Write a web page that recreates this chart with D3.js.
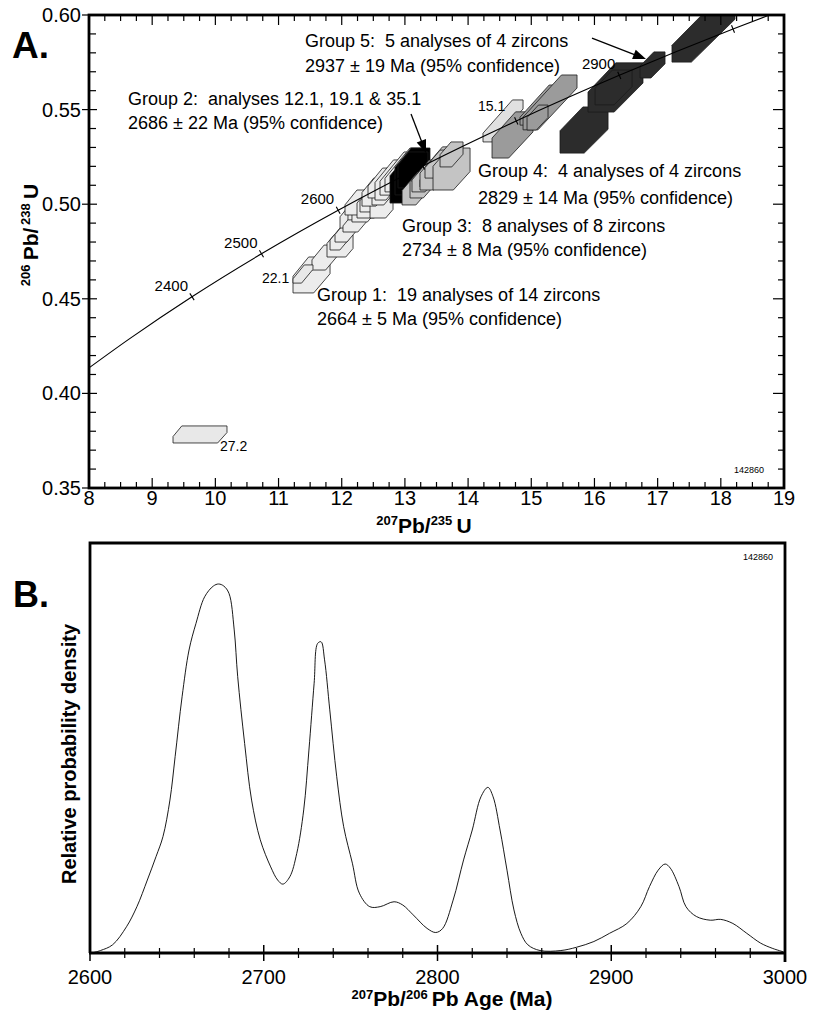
<!DOCTYPE html>
<html><head><meta charset="utf-8">
<script src="https://cdn.jsdelivr.net/npm/d3@7"></script>
<style>
body{margin:0;background:#fff;}
text{font-family:"Liberation Sans",Arial,Helvetica,sans-serif;fill:#000;}
.pre{white-space:pre;}
</style></head><body>
<svg id="c" width="813" height="1012"></svg>
<script>
// ---------- DATA ----------
// Concordia (age Ma, 207Pb/235U, 206Pb/238U)
const concAge = [2231, 2300, 2400, 2500, 2600, 2700, 2800, 2900, 3000, 3030];
const concX   = [8.000, 8.633, 9.630, 10.730, 11.944, 13.283, 14.762, 16.393, 18.193, 18.769];
const concY   = [0.4135, 0.4287, 0.4511, 0.4738, 0.4968, 0.5202, 0.5440, 0.5681, 0.5926, 0.6000];
const concTickAges  = [2400, 2500, 2600, 2700, 2800, 2900, 3000];
const concLabelAges = [2400, 2500, 2600, 2900];

// Analyses: group, 207Pb/235U, ±, 206Pb/238U, ±, relative error of 207Pb/206Pb
const anGroup = ["g1","g1","g1","g1","g1","g1","g1","g1","g1","g1","g1","g1","g1","g1","g1","g1","g1","g1","g1",
                 "out","out",
                 "g2","g2","g2",
                 "g3","g3","g3","g3","g3","g3","g3","g3",
                 "out15",
                 "g4","g4","g4","g4",
                 "g5","g5","g5","g5","g5"];
const an75  = [11.522,11.735,11.973,11.973,12.052,12.147,12.210,12.289,12.368,12.266,12.440,12.487,12.630,12.527,12.701,12.606,12.764,12.899,13.002,
               11.387,9.757,
               13.041,13.120,13.128,
               13.192,13.342,13.318,13.453,13.532,13.516,13.738,13.738,
               14.553,
               14.703,15.178,15.297,15.099,
               15.835,16.333,16.302,16.919,17.726];
const an75e = [0.293,0.206,0.206,0.158,0.158,0.174,0.190,0.190,0.206,0.214,0.198,0.198,0.182,0.206,0.222,0.190,0.237,0.293,0.317,
               0.158,0.427,
               0.277,0.277,0.237,
               0.237,0.261,0.206,0.214,0.293,0.198,0.293,0.182,
               0.317,
               0.324,0.356,0.427,0.166,
               0.380,0.435,0.293,0.198,0.499];
const an68  = [0.4626,0.4718,0.4779,0.4816,0.4845,0.4935,0.4898,0.4980,0.4964,0.5009,0.4990,0.5022,0.4985,0.5064,0.5075,0.5112,0.5128,0.5162,0.5181,
               0.4631,0.3783,
               0.5120,0.5173,0.5181,
               0.5083,0.5133,0.5136,0.5154,0.5189,0.5212,0.5186,0.5263,
               0.5440,
               0.5366,0.5524,0.5538,0.5458,
               0.5392,0.5617,0.5617,0.5736,0.5910];
const an68e = [0.0095,0.0066,0.0058,0.0058,0.0045,0.0061,0.0045,0.0063,0.0058,0.0066,0.0063,0.0063,0.0058,0.0074,0.0079,0.0079,0.0106,0.0114,0.0116,
               0.0048,0.0045,
               0.0114,0.0124,0.0095,
               0.0087,0.0100,0.0071,0.0063,0.0114,0.0074,0.0111,0.0066,
               0.0111,
               0.0122,0.0106,0.0145,0.0066,
               0.0122,0.0130,0.0092,0.0069,0.0159];
const an76e = [0.024,0.015,0.020,0.012,0.012,0.014,0.013,0.019,0.015,0.015,0.019,0.015,0.017,0.016,0.013,0.012,0.016,0.015,0.016,
               0.0085,0.041,
               0.027,0.025,0.023,
               0.016,0.016,0.014,0.011,0.017,0.011,0.024,0.013,
               0.010,
               0.019,0.012,0.014,0.011,
               0.0233,0.0224,0.0172,0.0107,0.0165];
const groupFill = {g1:"#ececec", out:"#e8e8e8", g2:"#000000", g3:"#c4c4c4", out15:"#e0e0e0", g4:"#9b9b9b", g5:"#2c2c2c"};

const pointLabels = [["15.1",14.157,0.5493],["22.1",10.738,0.4584],["27.2",10.073,0.3696]];
const annotations = [
  ["Group 5:  5 analyses of 4 zircons",11.419,0.5831],["2937 \u00b1 19 Ma (95% confidence)",11.419,0.5699],
  ["Group 2:  analyses 12.1, 19.1 & 35.1",8.617,0.5524],["2686 \u00b1 22 Ma (95% confidence)",8.617,0.5397],
  ["Group 4:  4 analyses of 4 zircons",14.157,0.5144],["2829 \u00b1 14 Ma (95% confidence)",14.157,0.5001],
  ["Group 3:  8 analyses of 8 zircons",12.954,0.4853],["2734 \u00b1 8 Ma (95% confidence)",12.954,0.4726],
  ["Group 1:  19 analyses of 14 zircons",11.609,0.4488],["2664 \u00b1 5 Ma (95% confidence)",11.609,0.4362]
];
const arrows = [[13.097,0.5477,13.334,0.5271],[15.961,0.5878,16.816,0.5767]];

const xTicksA = [8,9,10,11,12,13,14,15,16,17,18,19];
const yTicksA = [0.35,0.40,0.45,0.50,0.55,0.60];

// Probability density (panel B)
const pdAge = [2601,2606,2613,2621,2627,2633,2638,2642,2646,2649,2653,2657,2661,2666,2671,2674,2677,2680,2683,2685,2689,2693,2698,2704,2708,2711,2715,2719,2723,2726,2729,2731,2733,2735,2738,2742,2746,2751,2755,2761,2767,2775,2780,2786,2794,2799,2803,2809,2815,2820,2825,2829,2832,2836,2840,2844,2848,2852,2859,2871,2880,2890,2899,2909,2917,2922,2927,2931,2934,2939,2943,2949,2957,2963,2970,2978,2986,2993,2999];
const pdDens = [0,0.6,2,6.4,11.3,17.8,23.5,28.4,37.3,47.9,62.5,73.9,80.4,86.9,89.5,90,89.5,87.7,78.8,67.4,51.1,37.3,27.6,21,17.8,16.8,18.6,24.3,34.9,49.5,65.8,75.5,75.9,71.5,59.3,43,30.8,21.9,14.6,11.3,11.3,12.5,11.7,9.3,6,5,6,12.9,22.7,30,38.1,40.4,38.1,30,20.2,10.5,4.8,2,0.6,0.6,1.4,2.8,4.8,7.2,11.3,16.2,20.2,21.7,20.7,16.2,11.3,8.9,8,8.2,7.2,4.8,2.4,1.1,0.3];
const xTicksB = [2600,2700,2800,2900,3000];

// ---------- DRAW ----------
const svg = d3.select("#c");

// ===== Panel A =====
const ax = d3.scaleLinear().domain([8,19]).range([89,784]);
const ay = d3.scaleLinear().domain([0.35,0.60]).range([488,15]);
svg.append("clipPath").attr("id","clipA").append("rect")
  .attr("x",ax(8)).attr("y",ay(0.60)).attr("width",ax(19)-ax(8)).attr("height",ay(0.35)-ay(0.60));
const gA = svg.append("g");
const plotA = gA.append("g").attr("clip-path","url(#clipA)");

function clipPoly(poly,f){
  const out=[];
  for(let i=0;i<poly.length;i++){
    const a=poly[i], b=poly[(i+1)%poly.length], fa=f(a), fb=f(b);
    if(fa>=0) out.push(a);
    if((fa>=0)!==(fb>=0)){const t=fa/(fa-fb); out.push([a[0]+t*(b[0]-a[0]), a[1]+t*(b[1]-a[1])]);}
  }
  return out;
}
function errorBox(x,sx,y,sy,s){
  const kc=y/x, klo=kc/(1+s), khi=kc/(1-s);
  let p=[[x-sx,y-sy],[x+sx,y-sy],[x+sx,y+sy],[x-sx,y+sy]];
  p=clipPoly(p,q=>q[1]-klo*q[0]);
  p=clipPoly(p,q=>khi*q[0]-q[1]);
  return p;
}
const boxes = an75.map((x,i)=>({g:anGroup[i], pts:errorBox(x,an75e[i],an68[i],an68e[i],an76e[i])}));
plotA.selectAll("path.box").data(boxes).join("path").attr("class","box")
  .attr("d",d=>"M"+d.pts.map(p=>[ax(p[0]).toFixed(2),ay(p[1]).toFixed(2)].join(",")).join("L")+"Z")
  .attr("fill",d=>groupFill[d.g]).attr("stroke","#1a1a1a").attr("stroke-width",0.8).attr("stroke-linejoin","round");

// concordia
const concPts = concX.map((x,i)=>[x,concY[i]]);
plotA.append("path").attr("d",d3.line().x(d=>ax(d[0])).y(d=>ay(d[1])).curve(d3.curveMonotoneX)(concPts))
  .attr("fill","none").attr("stroke","#000").attr("stroke-width",1.1);
concTickAges.forEach(a=>{
  const i=concAge.indexOf(a);
  const px=ax(concX[i]), py=ay(concY[i]);
  const dx=ax(concX[i+1])-ax(concX[i-1]), dy=ay(concY[i+1])-ay(concY[i-1]);
  const L=Math.hypot(dx,dy), nx=-dy/L, ny=dx/L;
  plotA.append("line").attr("x1",px-4*nx).attr("y1",py-4*ny).attr("x2",px+4*nx).attr("y2",py+4*ny)
    .attr("stroke","#000").attr("stroke-width",1.1);
  if(concLabelAges.includes(a)){
    gA.append("text").attr("x",px-4).attr("y",py-6).attr("text-anchor","end")
      .attr("font-size",15).text(a);
  }
});

// frame and ticks
gA.append("rect").attr("x",ax(8)).attr("y",ay(0.60)).attr("width",ax(19)-ax(8)).attr("height",ay(0.35)-ay(0.60))
  .attr("fill","none").attr("stroke","#000").attr("stroke-width",2.8);
const xMinorA = d3.range(8,19.001,0.25);
xMinorA.forEach(v=>{
  const maj=Math.abs(v-Math.round(v))<1e-6, L=maj?10:6;
  gA.append("line").attr("x1",ax(v)).attr("x2",ax(v)).attr("y1",ay(0.35)).attr("y2",ay(0.35)-L).attr("stroke","#000").attr("stroke-width",1.2);
  gA.append("line").attr("x1",ax(v)).attr("x2",ax(v)).attr("y1",ay(0.60)).attr("y2",ay(0.60)+L).attr("stroke","#000").attr("stroke-width",1.2);
});
const yMinorA = d3.range(0,26).map(i=>0.35+i*0.01);
yMinorA.forEach((v,i)=>{
  const maj=i%5===0;
  gA.append("line").attr("x1",ax(8)-(maj?7:0)).attr("x2",ax(8)+(maj?8:7)).attr("y1",ay(v)).attr("y2",ay(v)).attr("stroke","#000").attr("stroke-width",1.2);
  gA.append("line").attr("x1",ax(19)).attr("x2",ax(19)-(maj?11:6)).attr("y1",ay(v)).attr("y2",ay(v)).attr("stroke","#000").attr("stroke-width",1.2);
});
gA.selectAll("text.xt").data(xTicksA).join("text").attr("class","xt")
  .attr("x",d=>ax(d)).attr("y",505).attr("text-anchor","middle").attr("font-size",20).text(d=>d);
gA.selectAll("text.yt").data(yTicksA).join("text").attr("class","yt")
  .attr("x",81).attr("y",d=>ay(d)+7).attr("text-anchor","end").attr("font-size",20).text(d=>d.toFixed(2));

// axis titles A
const xtA = gA.append("text").attr("x",424).attr("y",533).attr("text-anchor","middle").attr("font-weight","bold");
xtA.append("tspan").attr("font-size",13).attr("dy",-8).text("207");
xtA.append("tspan").attr("font-size",21).attr("dy",8).text("Pb/");
xtA.append("tspan").attr("font-size",13).attr("dy",-8).text("235");
xtA.append("tspan").attr("font-size",21).attr("dy",8).text("\u2009U");
const ytA = gA.append("text").attr("transform","translate(38,235) rotate(-90)").attr("text-anchor","middle").attr("font-weight","bold");
ytA.append("tspan").attr("font-size",13).attr("dy",-8).text("206");
ytA.append("tspan").attr("font-size",21).attr("dy",8).text("\u2009Pb/");
ytA.append("tspan").attr("font-size",13).attr("dy",-8).text("\u2009238");
ytA.append("tspan").attr("font-size",21).attr("dy",8).text("\u2009U");
gA.append("text").attr("x",12).attr("y",58).attr("font-size",37).attr("font-weight","bold").text("A.");

// annotations
annotations.forEach(a=>{
  gA.append("text").attr("class","pre").attr("x",ax(a[1])).attr("y",ay(a[2])).attr("font-size",18).text(a[0]);
});
pointLabels.forEach(a=>{
  gA.append("text").attr("x",ax(a[1])).attr("y",ay(a[2])).attr("font-size",14).text(a[0]);
});
arrows.forEach(a=>{
  const x1=ax(a[0]),y1=ay(a[1]),x2=ax(a[2]),y2=ay(a[3]);
  const dx=x2-x1, dy=y2-y1, L=Math.hypot(dx,dy), ux=dx/L, uy=dy/L;
  const hl=13, hw=5;
  gA.append("line").attr("x1",x1).attr("y1",y1).attr("x2",x2-ux*hl*0.8).attr("y2",y2-uy*hl*0.8).attr("stroke","#000").attr("stroke-width",1.3);
  const bx=x2-ux*hl, by=y2-uy*hl;
  gA.append("path").attr("d",`M${x2},${y2}L${bx-uy*hw},${by+ux*hw}L${bx+uy*hw},${by-ux*hw}Z`).attr("fill","#000");
});
gA.append("text").attr("x",ax(18.209)).attr("y",ay(0.3579)).attr("font-size",9).text("142860");

// ===== Panel B =====
const bx = d3.scaleLinear().domain([2600,3000]).range([90,785]);
const by = d3.scaleLinear().domain([0,100]).range([953,543]);
const gB = svg.append("g");
gB.append("path").attr("d",d3.line().x((d,i)=>bx(pdAge[i])).y(d=>by(d)).curve(d3.curveCatmullRom)(pdDens))
  .attr("fill","none").attr("stroke","#000").attr("stroke-width",0.9);
gB.append("path").attr("d",`M${bx(2600)},${by(0)}V${by(100)}H${bx(3000)}V${by(0)+9}`)
  .attr("fill","none").attr("stroke","#000").attr("stroke-width",2.8);
gB.append("line").attr("x1",bx(2600)-1).attr("x2",bx(3000)+1).attr("y1",by(0)).attr("y2",by(0)).attr("stroke","#000").attr("stroke-width",3);
d3.range(2600,3000.1,20).forEach(v=>{
  const maj=v%100===0, L=maj?8:5;
  gB.append("line").attr("x1",bx(v)).attr("x2",bx(v)).attr("y1",by(0)-L).attr("y2",by(0)+L).attr("stroke","#000").attr("stroke-width",maj?1.5:1.2);
});
gB.selectAll("text.xt").data(xTicksB).join("text").attr("class","xt")
  .attr("x",d=>bx(d)).attr("y",984).attr("text-anchor","middle").attr("font-size",20).text(d=>d);
const xtB = gB.append("text").attr("x",452).attr("y",1006).attr("text-anchor","middle").attr("font-weight","bold");
xtB.append("tspan").attr("font-size",13).attr("dy",-7).text("207");
xtB.append("tspan").attr("font-size",21).attr("dy",7).text("Pb/");
xtB.append("tspan").attr("font-size",13).attr("dy",-7).text("206");
xtB.append("tspan").attr("font-size",21).attr("dy",7).text("\u2009Pb Age (Ma)");
gB.append("text").attr("transform","translate(76,754) rotate(-90)").attr("text-anchor","middle")
  .attr("font-size",20).attr("font-weight","bold").text("Relative probability density");
gB.append("text").attr("x",13).attr("y",607).attr("font-size",36).attr("font-weight","bold").text("B.");
gB.append("text").attr("x",bx(2975.8)).attr("y",by(95.9)).attr("font-size",9).text("142860");
</script>
</body></html>
